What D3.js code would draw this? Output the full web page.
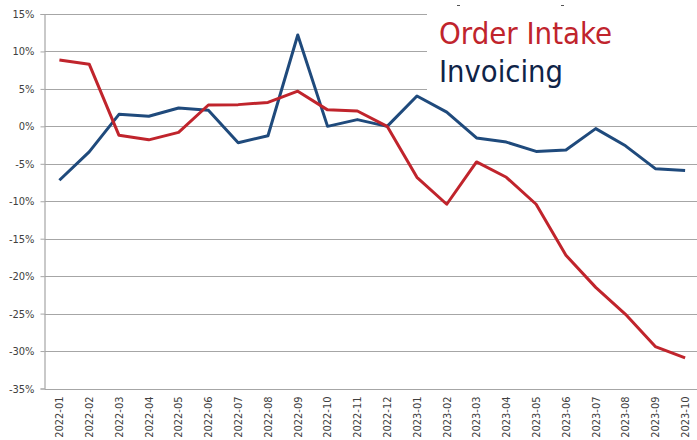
<!DOCTYPE html>
<html>
<head>
  <meta charset="utf-8">
  <script src="https://cdn.jsdelivr.net/npm/d3@7"></script>
  <style>
    body { margin: 0; background: #fff; }
    .tick text { font-family: "DejaVu Sans Condensed", "DejaVu Sans", sans-serif; font-size: 11px; fill: #404040; }
  </style>
</head>
<body>
<svg id="chart" width="697" height="440"></svg>
<script>
  // months shown on the x axis
  var months = ["2022-01","2022-02","2022-03","2022-04","2022-05","2022-06","2022-07","2022-08","2022-09","2022-10","2022-11","2022-12",
                "2023-01","2023-02","2023-03","2023-04","2023-05","2023-06","2023-07","2023-08","2023-09","2023-10"];

  // growth in %
  var orderIntake = [8.85, 8.3, -1.2, -1.8, -0.8, 2.85, 2.9, 3.2, 4.7, 2.2, 2.05, 0,
                     -6.8, -10.4, -4.75, -6.8, -10.4, -17.2, -21.5, -25.1, -29.4, -30.9];
  var invoicing   = [-7.2, -3.4, 1.6, 1.35, 2.45, 2.15, -2.2, -1.25, 12.2, 0, 0.9, 0,
                     4.05, 1.9, -1.55, -2.1, -3.35, -3.15, -0.3, -2.6, -5.65, -5.9];

  var yTicks = [15, 10, 5, 0, -5, -10, -15, -20, -25, -30, -35];

  var series = [
    { name: "Order Intake", values: orderIntake, color: "#c0242c", text: "#c0242c" },
    { name: "Invoicing",    values: invoicing,   color: "#1f4a7c", text: "#0f2448" }
  ];

  var svg = d3.select("#chart");
  var m = { left: 44.5, right: 700, top: 14, bottom: 388.5 };

  var x = d3.scaleBand().domain(months).range([m.left, m.right]);
  var y = d3.scaleLinear().domain([-35, 15]).range([m.bottom, m.top]);

  // gridlines
  svg.append("g").selectAll("line")
    .data(yTicks)
    .enter().append("line")
      .attr("x1", m.left).attr("x2", m.right)
      .attr("y1", function(d) { return Math.round(y(d)) + 0.5; })
      .attr("y2", function(d) { return Math.round(y(d)) + 0.5; })
      .attr("stroke", "#a6a6a6").attr("stroke-width", 1.2);

  // y axis
  var yAxis = svg.append("g")
    .attr("transform", "translate(" + m.left + ",0)")
    .call(d3.axisLeft(y).tickValues(yTicks).tickSize(4).tickPadding(6)
      .tickFormat(function(d) { return d + "%"; }));
  yAxis.select(".domain").attr("stroke", "#a6a6a6").attr("stroke-width", 1.2);
  yAxis.selectAll(".tick line").attr("stroke", "#a6a6a6");

  // x axis
  var xAxis = svg.append("g")
    .attr("transform", "translate(0," + m.bottom + ")")
    .call(d3.axisBottom(x).tickSize(0).tickPadding(0));
  xAxis.select(".domain").remove();
  xAxis.selectAll(".tick text")
    .attr("transform", "rotate(-90)")
    .attr("text-anchor", "end")
    .attr("x", -8).attr("y", 0).attr("dy", "0.35em");

  // legend box covers the top right of the grid
  svg.append("rect")
    .attr("x", 427).attr("y", 0).attr("width", 270).attr("height", 92)
    .attr("fill", "#fff");

  // two little specks left over above the legend
  svg.append("g").selectAll("line")
    .data([457, 561])
    .enter().append("line")
      .attr("x1", function(d) { return d; }).attr("x2", function(d) { return d + 3; })
      .attr("y1", 5.5).attr("y2", 5.5)
      .attr("stroke", "#555").attr("stroke-width", 1);

  var line = d3.line()
    .x(function(d, i) { return x(months[i]) + x.bandwidth() / 2; })
    .y(function(d) { return y(d); });

  svg.append("g").selectAll("path")
    .data(series.slice().reverse())
    .enter().append("path")
      .attr("d", function(s) { return line(s.values); })
      .attr("fill", "none")
      .attr("stroke", function(s) { return s.color; })
      .attr("stroke-width", 3)
      .attr("stroke-linejoin", "round");

  // legend
  var legendWidths = [173, 124];
  svg.append("g").selectAll("text")
    .data(series)
    .enter().append("text")
      .attr("x", 439)
      .attr("y", function(d, i) { return 43.5 + i * 38.5; })
      .attr("fill", function(d) { return d.text; })
      .attr("font-family", "'DejaVu Sans Condensed', 'DejaVu Sans', sans-serif")
      .attr("font-size", 30)
      .attr("textLength", function(d, i) { return legendWidths[i]; })
      .attr("lengthAdjust", "spacingAndGlyphs")
      .text(function(d) { return d.name; });
</script>
</body>
</html>
